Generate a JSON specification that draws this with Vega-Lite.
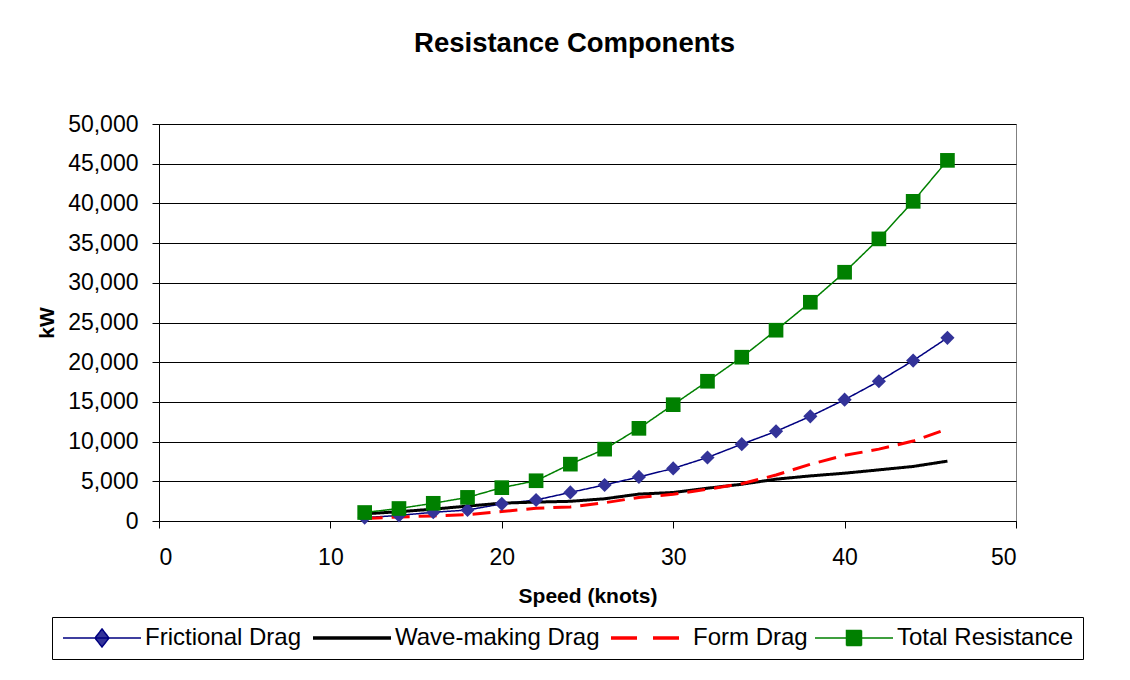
{
  "$schema": "https://vega.github.io/schema/vega-lite/v6.json",
  "autosize": {"type": "none"},
  "padding": {"left": 159, "top": 124, "right": 114, "bottom": 159},
  "width": 857,
  "height": 397,
  "background": "white",
  "title": {
    "text": "Resistance Components",
    "font": "Liberation Sans",
    "fontSize": 27.5,
    "fontWeight": "bold",
    "color": "#000000",
    "anchor": "middle",
    "frame": "group",
    "dx": -13,
    "offset": 56
  },
  "config": {
    "view": {"stroke": "#808080", "strokeWidth": 1},
    "axis": {
      "labelFont": "Liberation Sans",
      "labelFontSize": 23,
      "labelColor": "#000000",
      "titleFont": "Liberation Sans",
      "titleFontSize": 21,
      "titleFontWeight": "bold",
      "titleColor": "#000000",
      "domainColor": "#000000",
      "tickColor": "#000000",
      "tickSize": 7,
      "gridColor": "#000000",
      "gridOpacity": 1
    }
  },
  "data": {
    "values": [
      {"speed": 12, "series": "Frictional Drag", "kW": 430},
      {"speed": 14, "series": "Frictional Drag", "kW": 700},
      {"speed": 16, "series": "Frictional Drag", "kW": 1100},
      {"speed": 18, "series": "Frictional Drag", "kW": 1380},
      {"speed": 20, "series": "Frictional Drag", "kW": 2160},
      {"speed": 22, "series": "Frictional Drag", "kW": 2650},
      {"speed": 24, "series": "Frictional Drag", "kW": 3600},
      {"speed": 26, "series": "Frictional Drag", "kW": 4540},
      {"speed": 28, "series": "Frictional Drag", "kW": 5550},
      {"speed": 30, "series": "Frictional Drag", "kW": 6620},
      {"speed": 32, "series": "Frictional Drag", "kW": 8000},
      {"speed": 34, "series": "Frictional Drag", "kW": 9680},
      {"speed": 36, "series": "Frictional Drag", "kW": 11290},
      {"speed": 38, "series": "Frictional Drag", "kW": 13180},
      {"speed": 40, "series": "Frictional Drag", "kW": 15280},
      {"speed": 42, "series": "Frictional Drag", "kW": 17600},
      {"speed": 44, "series": "Frictional Drag", "kW": 20200},
      {"speed": 46, "series": "Frictional Drag", "kW": 23070},
      {"speed": 12, "series": "Wave-making Drag", "kW": 900},
      {"speed": 14, "series": "Wave-making Drag", "kW": 1170},
      {"speed": 16, "series": "Wave-making Drag", "kW": 1490},
      {"speed": 18, "series": "Wave-making Drag", "kW": 1880},
      {"speed": 20, "series": "Wave-making Drag", "kW": 2250},
      {"speed": 22, "series": "Wave-making Drag", "kW": 2380},
      {"speed": 24, "series": "Wave-making Drag", "kW": 2480},
      {"speed": 26, "series": "Wave-making Drag", "kW": 2800},
      {"speed": 28, "series": "Wave-making Drag", "kW": 3390},
      {"speed": 30, "series": "Wave-making Drag", "kW": 3590},
      {"speed": 32, "series": "Wave-making Drag", "kW": 4130},
      {"speed": 34, "series": "Wave-making Drag", "kW": 4630},
      {"speed": 36, "series": "Wave-making Drag", "kW": 5270},
      {"speed": 38, "series": "Wave-making Drag", "kW": 5680},
      {"speed": 40, "series": "Wave-making Drag", "kW": 6020},
      {"speed": 42, "series": "Wave-making Drag", "kW": 6440},
      {"speed": 44, "series": "Wave-making Drag", "kW": 6870},
      {"speed": 46, "series": "Wave-making Drag", "kW": 7540},
      {"speed": 12, "series": "Form Drag", "kW": 320},
      {"speed": 14, "series": "Form Drag", "kW": 510},
      {"speed": 16, "series": "Form Drag", "kW": 640},
      {"speed": 18, "series": "Form Drag", "kW": 800},
      {"speed": 20, "series": "Form Drag", "kW": 1200},
      {"speed": 22, "series": "Form Drag", "kW": 1600},
      {"speed": 24, "series": "Form Drag", "kW": 1770},
      {"speed": 26, "series": "Form Drag", "kW": 2300},
      {"speed": 28, "series": "Form Drag", "kW": 2970},
      {"speed": 30, "series": "Form Drag", "kW": 3370},
      {"speed": 32, "series": "Form Drag", "kW": 4000},
      {"speed": 34, "series": "Form Drag", "kW": 4700},
      {"speed": 36, "series": "Form Drag", "kW": 5790},
      {"speed": 38, "series": "Form Drag", "kW": 7140},
      {"speed": 40, "series": "Form Drag", "kW": 8270},
      {"speed": 42, "series": "Form Drag", "kW": 9050},
      {"speed": 44, "series": "Form Drag", "kW": 10070},
      {"speed": 46, "series": "Form Drag", "kW": 11600},
      {"speed": 12, "series": "Total Resistance", "kW": 1070},
      {"speed": 14, "series": "Total Resistance", "kW": 1575},
      {"speed": 16, "series": "Total Resistance", "kW": 2230},
      {"speed": 18, "series": "Total Resistance", "kW": 2975},
      {"speed": 20, "series": "Total Resistance", "kW": 4200},
      {"speed": 22, "series": "Total Resistance", "kW": 5070},
      {"speed": 24, "series": "Total Resistance", "kW": 7160},
      {"speed": 26, "series": "Total Resistance", "kW": 9050},
      {"speed": 28, "series": "Total Resistance", "kW": 11670},
      {"speed": 30, "series": "Total Resistance", "kW": 14650},
      {"speed": 32, "series": "Total Resistance", "kW": 17600},
      {"speed": 34, "series": "Total Resistance", "kW": 20630},
      {"speed": 36, "series": "Total Resistance", "kW": 24030},
      {"speed": 38, "series": "Total Resistance", "kW": 27550},
      {"speed": 40, "series": "Total Resistance", "kW": 31330},
      {"speed": 42, "series": "Total Resistance", "kW": 35530},
      {"speed": 44, "series": "Total Resistance", "kW": 40260},
      {"speed": 46, "series": "Total Resistance", "kW": 45420}
    ]
  },
  "encoding": {
    "x": {
      "field": "speed",
      "type": "quantitative",
      "scale": {"domain": [0, 50], "nice": false, "zero": false},
      "axis": {
        "values": [0, 10, 20, 30, 40, 50],
        "grid": false,
        "labelPadding": 18,
        "title": "Speed (knots)",
        "titlePadding": 16
      }
    },
    "y": {
      "field": "kW",
      "type": "quantitative",
      "scale": {"domain": [0, 50000], "nice": false},
      "axis": {
        "values": [0, 5000, 10000, 15000, 20000, 25000, 30000, 35000, 40000, 45000, 50000],
        "format": ",.0f",
        "grid": true,
        "labelPadding": 14,
        "title": "kW",
        "titlePadding": 10
      }
    }
  },
  "layer": [
    {
      "mark": {"type": "line", "clip": false},
      "encoding": {
        "stroke": {
          "field": "series",
          "type": "nominal",
          "scale": {
            "domain": ["Frictional Drag", "Wave-making Drag", "Form Drag", "Total Resistance"],
            "range": ["#000080", "#000000", "#FF0000", "#008000"]
          },
          "legend": {
            "orient": "none",
            "legendX": -107,
            "legendY": 493,
            "direction": "horizontal",
            "columns": 4,
            "title": null,
            "padding": 9,
            "strokeColor": "#000000",
            "fillColor": "#FFFFFF",
            "labelFont": "Liberation Sans",
            "labelFontSize": 24,
            "labelColor": "#000000",
            "labelLimit": 400,
            "labelOffset": 60,
            "columnPadding": 4,
            "symbolSize": 400,
            "symbolStrokeWidth": 1.5,
            "encode": {
              "symbols": {
                "update": {
                  "shape": {"signal": "datum.value === 'Frictional Drag' ? 'M-1,0H6.8M2.9,-0.9L3.6,0L2.9,0.9L2.2,0Z' : datum.value === 'Total Resistance' ? 'M-1,0H6.8M2.15,-0.75H3.65V0.75H2.15Z' : 'M-1,0H6.8'"},
                  "fill": {"signal": "datum.value === 'Frictional Drag' ? '#333399' : datum.value === 'Total Resistance' ? '#008000' : 'transparent'"},
                  "strokeWidth": {"signal": "datum.value === 'Wave-making Drag' || datum.value === 'Form Drag' ? 3.5 : 1.5"},
                  "strokeDash": {"signal": "datum.value === 'Form Drag' ? [26, 16] : [1, 0]"}
                }
              }
            }
          }
        },
        "strokeDash": {
          "condition": {"test": "datum.series === 'Form Drag'", "value": [18, 9]},
          "value": [1, 0]
        },
        "strokeWidth": {
          "condition": {"test": "datum.series === 'Form Drag' || datum.series === 'Wave-making Drag'", "value": 3},
          "value": 1.5
        }
      }
    },
    {
      "transform": [{"filter": "datum.series === 'Frictional Drag'"}],
      "mark": {"type": "point", "shape": "diamond", "filled": true, "size": 200, "color": "#333399", "opacity": 1, "clip": false}
    },
    {
      "transform": [{"filter": "datum.series === 'Total Resistance'"}],
      "mark": {"type": "point", "shape": "square", "filled": true, "size": 215, "color": "#008000", "opacity": 1, "clip": false}
    }
  ]
}
